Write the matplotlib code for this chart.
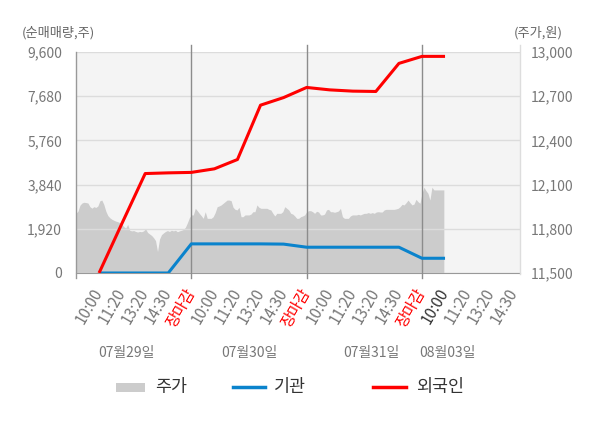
import numpy as np
import matplotlib
matplotlib.use('Agg')
import matplotlib.pyplot as plt
import matplotlib.transforms as mtransforms
from matplotlib.patches import Rectangle
from matplotlib.lines import Line2D
from matplotlib.ticker import FuncFormatter

plt.rcParams['font.family'] = ['Noto Sans CJK KR', 'DejaVu Sans']

# ---- data -------------------------------------------------------------------
days = ['07월29일', '07월30일', '07월31일', '08월03일']
times = ['10:00', '11:20', '13:20', '14:30', '장마감']

# cumulative net buying (shares) at each time slot
inst = [0, 0, 0, 0, 1265,
        1265, 1265, 1265, 1255, 1120,
        1120, 1120, 1120, 1120, 640,
        640]
foreign = [0, 2170, 4320, 4350, 4370,
           4525, 4930, 7290, 7620, 8060,
           7955, 7900, 7885, 9105, 9410,
           9410]

# intraday price (won), evenly sampled through each session
price_d1 = [11905, 11920, 11960, 11975, 11980, 11978, 11975, 11950, 11940, 11950,
            11945, 11955, 11990, 11995, 11965, 11920, 11890, 11875, 11865, 11858,
            11852, 11848, 11842, 11832, 11815, 11805, 11830, 11790, 11786, 11788,
            11782, 11778, 11782, 11780, 11786, 11800, 11775, 11765, 11755, 11740,
            11720, 11645, 11730, 11760, 11772, 11782, 11788, 11782, 11790, 11786,
            11790, 11780, 11786, 11790, 11795, 11810, 11840, 11875]
price_d2 = [11894, 11894, 11939, 11923, 11905, 11889, 11871, 11916, 11871, 11871,
            11871, 11882, 11910, 11950, 11955, 11962, 11973, 11984, 11995, 11995,
            11991, 11946, 11932, 11928, 11946, 11882, 11882, 11894, 11894, 11894,
            11900, 11916, 11916, 11962, 11946, 11939, 11939, 11939, 11939, 11932,
            11928, 11905, 11887, 11905, 11905, 11905, 11916, 11950, 11939, 11928,
            11905, 11900, 11887, 11871, 11871, 11882, 11887, 11894]
price_d3 = [11916, 11923, 11923, 11916, 11905, 11919, 11914, 11894, 11894, 11900,
            11928, 11932, 11916, 11916, 11912, 11916, 11921, 11939, 11882, 11871,
            11871, 11871, 11887, 11894, 11894, 11894, 11898, 11894, 11900, 11905,
            11905, 11910, 11905, 11910, 11905, 11914, 11916, 11914, 11914, 11928,
            11932, 11932, 11932, 11932, 11932, 11935, 11939, 11950, 11966, 11962,
            11977, 11995, 11977, 11962, 11968, 12000, 11984, 11973]
price_d4 = [12041, 12082, 12059, 12041, 11995, 12082, 12064, 12064, 12064, 12064,
            12064, 12064]

net_ticks = [0, 1920, 3840, 5760, 7680, 9600]
price_ticks = [11500, 11800, 12100, 12400, 12700, 13000]

# ---- layout -----------------------------------------------------------------
SAMPLES_PER_DAY = 58
X_END = 3.85

fig = plt.figure(figsize=(6, 4.28), dpi=100)
ax = fig.add_axes([76 / 600, 1 - 273 / 428, 444 / 600, 221 / 428])
ax.set_facecolor('#f4f4f4')
ax2 = ax.twinx()

price_days = [price_d1, price_d2, price_d3, price_d4]
px = np.concatenate([d + np.arange(len(p)) / SAMPLES_PER_DAY for d, p in enumerate(price_days)])
pv = np.concatenate([np.array(p, dtype=float) for p in price_days])
ax.fill_between(px, pv, price_ticks[0], color='#cccccc', lw=0, zorder=1)

ax.set_xlim(0, X_END)
ax.set_ylim(price_ticks[0], price_ticks[-1])
ax.set_yticks(price_ticks)
ax.yaxis.grid(True, color='#dcdcdc', lw=1)
ax.set_axisbelow(False)
ax.yaxis.tick_right()
ax.yaxis.set_major_formatter(FuncFormatter(lambda v, p: f'{v:,.0f}'))
ax.tick_params(axis='y', length=0, pad=8, labelsize=10, labelcolor='#777777')

for s in ('left', 'right', 'top'):
    ax.spines[s].set_visible(False)
ax.spines['bottom'].set_color('#999999')

# day separators and side lines
for d in range(1, 4):
    ax.axvline(d, ymin=-0.023, ymax=1.032, color='#8c8c8c', lw=1, clip_on=False, zorder=3)
ax.axvline(0, ymin=-0.023, ymax=1.0, color='#999999', lw=1, clip_on=False, zorder=3)
ax.axvline(X_END, ymin=-0.005, ymax=1.032, color='#dddddd', lw=1, clip_on=False, zorder=3)

# x ticks: one per time slot
tick_x, tick_lab, tick_col = [], [], []
for d in range(len(days)):
    for k, t in enumerate(times):
        x = d + 0.2 * (k + 1)
        if x > X_END:
            continue
        tick_x.append(x)
        tick_lab.append(t)
        if t == '장마감':
            tick_col.append('#ff0000')
        elif d == len(days) - 1 and k == 0:
            tick_col.append('#333333')
        else:
            tick_col.append('#777777')
ax.set_xticks(tick_x)
ax.set_xticklabels(tick_lab, rotation=60, ha='right', va='center',
                   rotation_mode='anchor', fontsize=11)
for lab, c in zip(ax.get_xticklabels(), tick_col):
    lab.set_color(c)
ax.tick_params(axis='x', length=0, pad=12)

# net buying lines
line_x = tick_x[:len(foreign)]
ax2.plot(line_x, inst, color='#0a83cc', lw=2.2, solid_capstyle='butt', zorder=4)
ax2.plot(line_x, foreign, color='#ff0000', lw=2.2, solid_capstyle='butt', zorder=5)
ax2.set_ylim(net_ticks[0], net_ticks[-1])
ax2.set_yticks(net_ticks)
ax2.yaxis.tick_left()
ax2.yaxis.set_major_formatter(FuncFormatter(lambda v, p: f'{v:,.0f}'))
ax2.tick_params(axis='y', length=0, pad=10, labelsize=10, labelcolor='#777777')
for s in ax2.spines.values():
    s.set_visible(False)

# date labels under the time ticks
date_x = [0.44, 1.50, 2.56, 3.22]
trans = mtransforms.blended_transform_factory(ax.transData, fig.transFigure)
for x, lab in zip(date_x, days):
    ax.text(x, 1 - 353 / 428, lab, transform=trans, ha='center', va='center',
            fontsize=10, color='#777777')

# axis unit captions
fig.text(22 / 600, 1 - 33 / 428, '(순매매량,주)', ha='left', va='center', fontsize=9.5, color='#666666')
fig.text(563 / 600, 1 - 33 / 428, '(주가,원)', ha='right', va='center', fontsize=9.5, color='#666666')

# legend
ly = 1 - 387 / 428
fig.add_artist(Rectangle((116 / 600, 1 - 392 / 428), 29 / 600, 9 / 428,
                         transform=fig.transFigure, color='#cccccc', lw=0))
fig.text(155 / 600, ly, '주가', ha='left', va='center', fontsize=12.5, color='#333333')
fig.add_artist(Line2D([233 / 600, 265 / 600], [ly, ly], transform=fig.transFigure,
                      color='#0a83cc', lw=2.5))
fig.text(274 / 600, ly, '기관', ha='left', va='center', fontsize=12.5, color='#333333')
fig.add_artist(Line2D([373 / 600, 406 / 600], [ly, ly], transform=fig.transFigure,
                      color='#ff0000', lw=2.5))
fig.text(416 / 600, ly, '외국인', ha='left', va='center', fontsize=12.5, color='#333333')

fig.savefig('out.png', dpi=100)
